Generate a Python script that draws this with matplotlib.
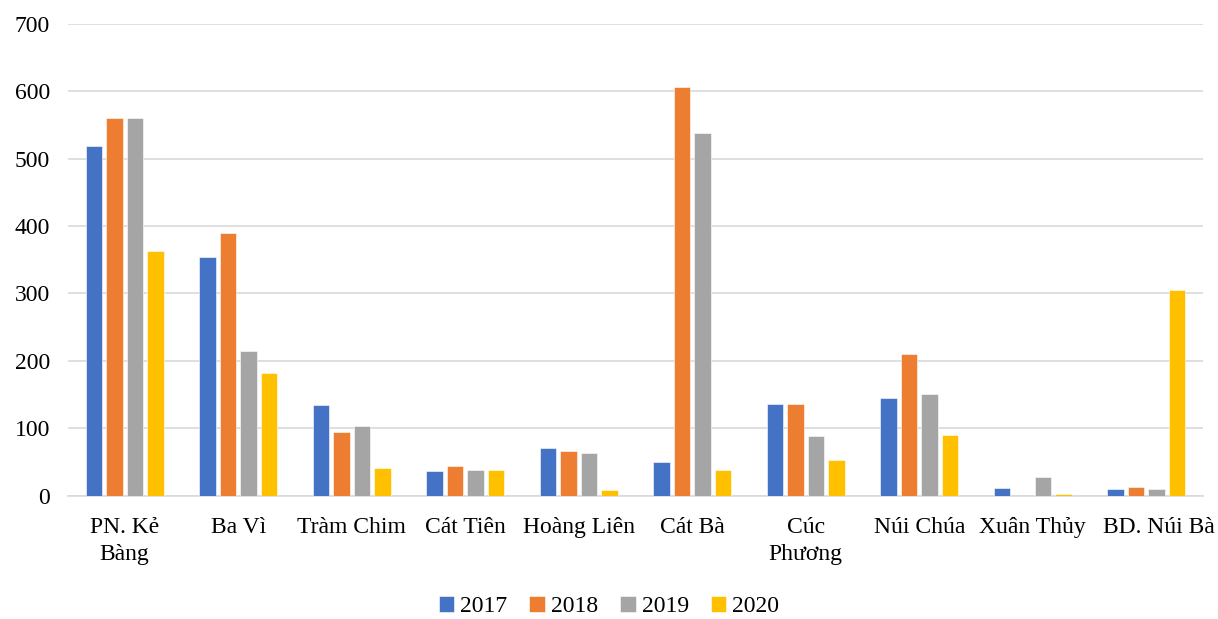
import numpy as np
import matplotlib.pyplot as plt
from matplotlib.transforms import ScaledTranslation

sites = ["PN. Kẻ\nBàng", "Ba Vì", "Tràm Chim", "Cát Tiên", "Hoàng Liên",
         "Cát Bà", "Cúc\nPhương", "Núi Chúa", "Xuân Thủy", "BD. Núi Bà"]
years = ["2017", "2018", "2019", "2020"]
v2017 = [518, 354, 134, 37, 70, 50, 136, 145, 12, 10]
v2018 = [560, 389, 94, 44, 67, 606, 136, 210, 0, 13]
v2019 = [560, 215, 104, 38, 64, 538, 88, 151, 28, 10]
v2020 = [363, 182, 41, 38, 9, 38, 53, 90, 3, 305]
colors = ["#4472c4", "#ed7d31", "#a5a5a5", "#ffc000"]

plt.rcParams['font.family'] = ['Liberation Serif', 'DejaVu Serif']

fig = plt.figure(figsize=(12.18, 6.19), dpi=100)
ax = fig.add_axes([0.0558, 0.1992, 0.9319, 0.7625])

x = np.arange(len(sites))
step = 0.18
for i, (vals, yr) in enumerate(zip([v2017, v2018, v2019, v2020], years)):
    ax.bar(x + (i - 1.5) * step, vals, width=0.145, color=colors[i],
           label=yr, zorder=3, edgecolor="white", linewidth=0.4)

ax.set_xlim(-0.5, len(sites) - 0.5)
ax.set_ylim(0, 700)
ax.set_yticks(range(0, 701, 100))
ax.grid(axis="y", color="#d9d9d9", linewidth=1.2, zorder=0)
for s in ["top", "right", "left"]:
    ax.spines[s].set_visible(False)
ax.spines["bottom"].set_color("#d9d9d9")
ax.spines["bottom"].set_linewidth(1.2)
ax.tick_params(axis="both", length=0, labelsize=17)
ax.tick_params(axis="x", pad=15)
ax.tick_params(axis="y", pad=13)
ax.set_xticks(x)
ax.set_xticklabels(sites, linespacing=1.4)

# last label is nudged right so it sits clear of its neighbour
last = ax.get_xticklabels()[-1]
last.set_transform(last.get_transform() + ScaledTranslation(0.13, 0, fig.dpi_scale_trans))

fig.legend(loc="center", bbox_to_anchor=(0.5, 0.02), ncol=4,
           frameon=False, fontsize=17, handlelength=0.65, handleheight=0.65,
           handletextpad=0.25, columnspacing=0.95, borderaxespad=0)

fig.savefig("out.png", dpi=100)
